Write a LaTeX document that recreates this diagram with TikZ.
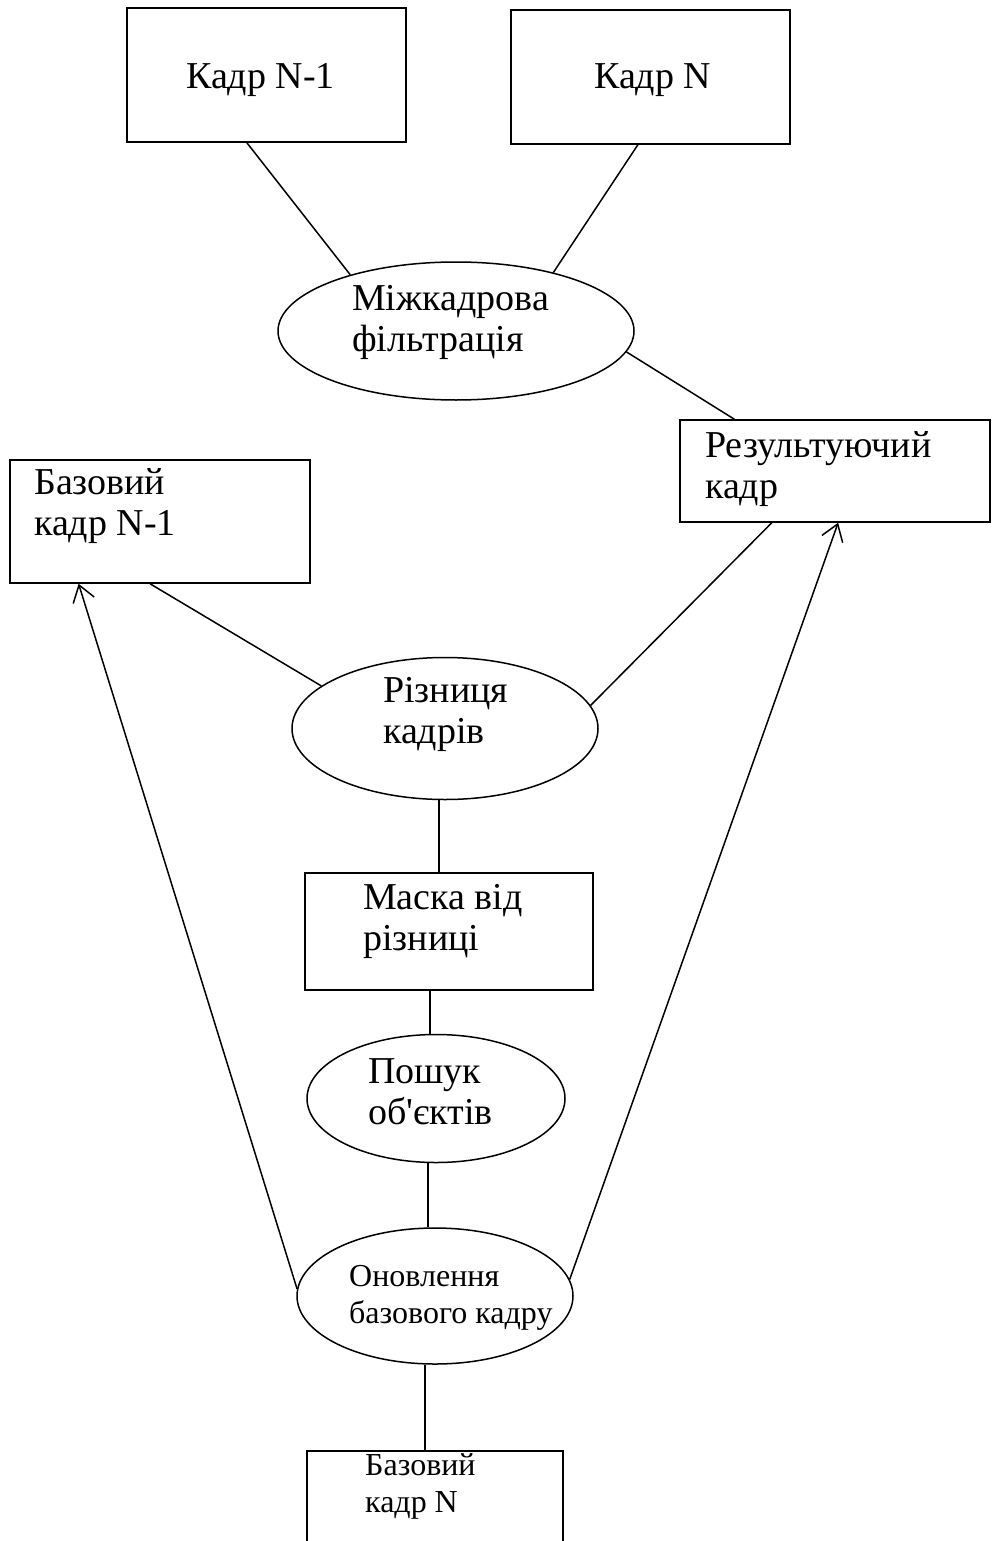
\documentclass[tikz,border=0pt]{standalone}
\usepackage{fontspec}
\setmainfont{Liberation Serif}[Ligatures=TeXOff]
\usetikzlibrary{calc}
\usetikzlibrary{arrows.meta}
\usetikzlibrary{shapes.geometric}

\tikzset{
  frame/.style={draw, line width=1.5pt, inner sep=0pt},
  oval/.style={draw, ellipse, line width=1.5pt, inner sep=0pt},
  lbl/.style={anchor=base west, align=left, inner sep=0pt, font=\fontsize{38}{41}\selectfont},
  lblsmall/.style={lbl, font=\fontsize{32}{37}\selectfont},
  link/.style={line width=1.5pt},
  back/.style={line width=1.5pt, -{Straight Barb[length=16pt,width=22pt,line width=1.5pt]}}
}

\begin{document}
\begin{tikzpicture}[x=1pt, y=-1pt]
  \useasboundingbox (0,0) rectangle (992,1541);
  % frames and ovals
  \node[frame, minimum width=279pt, minimum height=134pt] (kadrA)  at (266.5,75)   {};
  \node[frame, minimum width=279pt, minimum height=134pt] (kadrB)  at (650.5,77)   {};
  \node[oval,  minimum width=356pt, minimum height=138pt] (mizh)   at (456,331)    {};
  \node[frame, minimum width=310pt, minimum height=102pt] (rez)    at (835,471)    {};
  \node[frame, minimum width=300pt, minimum height=123pt] (bazA)   at (160,521.5)  {};
  \node[oval,  minimum width=306pt, minimum height=142pt] (riz)    at (445,728.5)  {};
  \node[frame, minimum width=288pt, minimum height=117pt] (maska)  at (449,931.5)  {};
  \node[oval,  minimum width=258pt, minimum height=128pt] (poshuk) at (436,1098.5) {};
  \node[oval,  minimum width=276pt, minimum height=136pt] (onovl)  at (435,1296)   {};
  \node[frame, minimum width=256pt, minimum height=130pt] (bazB)   at (435,1516)   {};

  % labels (base = last line)
  \node[lbl] (tA)      at (186,89)   {Кадр N-1};
  \node[lbl] (tB)      at (594,89)   {Кадр N};
  \node[lbl] (tMizh)   at (352,351)  {Міжкадрова\\фільтрація};
  \node[lbl] (tRez)    at (705,498)  {Результуючий\\кадр};
  \node[lbl] (tBazA)   at (34,535)   {Базовий\\кадр N-1};
  \node[lbl] (tRiz)    at (383,743)  {Різниця\\кадрів};
  \node[lbl] (tMaska)  at (363,950)  {Маска від\\різниці};
  \node[lbl] (tPoshuk) at (368,1124) {Пошук\\об'єктів};
  \node[lblsmall] (tOnovl) at (349,1323) {Оновлення\\базового кадру};
  \node[lblsmall] (tBazB)  at (365,1512) {Базовий\\кадр N};

  % connectors
  \coordinate (mTop) at ($(maska.north west)!0.465!(maska.north east)$);
  \coordinate (mBot) at ($(maska.south west)!0.434!(maska.south east)$);
  \coordinate (pBot) at ($(poshuk.south)+(-8,0)$);
  \coordinate (oBot) at ($(onovl.south)+(-10,0)$);
  \draw[link] ($(kadrA.south west)!0.43!(kadrA.south east)$) -- (mizh.152);
  \draw[link] ($(kadrB.south west)!0.455!(kadrB.south east)$) -- (mizh.31);
  \draw[link] (mizh.-7) -- ($(rez.north west)!0.177!(rez.north east)$);
  \draw[link] ($(bazA.south west)!0.467!(bazA.south east)$) -- (riz.161);
  \draw[link] ($(rez.south west)!0.297!(rez.south east)$) -- (riz.9);
  \draw[link] (mTop |- riz.south) -- (mTop);
  \draw[link] (mBot) -- (mBot |- poshuk.north);
  \draw[link] (pBot) -- (pBot |- onovl.north);
  \draw[link] (oBot) -- (oBot |- bazB.north);
  \draw[back] (onovl.177) -- ($(bazA.south west)!0.23!(bazA.south east)$);
  \draw[back] (onovl.7.5) -- ($(rez.south west)!0.51!(rez.south east)$);
\end{tikzpicture}
\end{document}
